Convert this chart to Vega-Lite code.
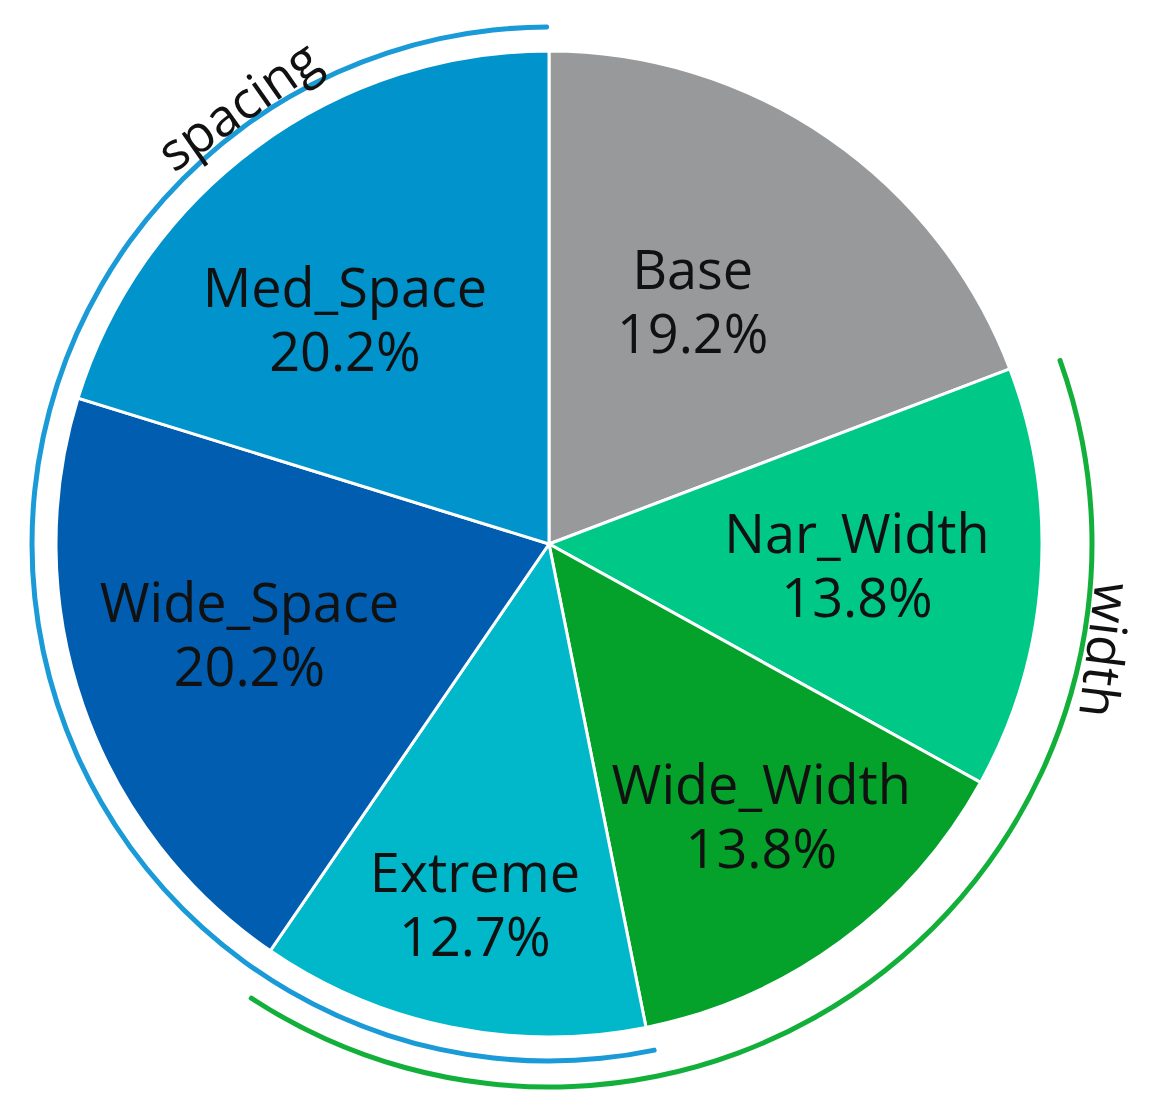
{
  "$schema": "https://vega.github.io/schema/vega-lite/v6.json",
  "width": 1098,
  "height": 1088,
  "autosize": {"type": "none"},
  "padding": {"left": 0, "top": 0, "right": 52, "bottom": 30},
  "background": "white",
  "config": {"view": {"stroke": null}, "font": "Open Sans"},
  "datasets": {
    "slices": [
      {"name": "Base", "share": 0.192, "order": 1},
      {"name": "Nar_Width", "share": 0.138, "order": 2},
      {"name": "Wide_Width", "share": 0.138, "order": 3},
      {"name": "Extreme", "share": 0.127, "order": 4},
      {"name": "Wide_Space", "share": 0.202, "order": 5},
      {"name": "Med_Space", "share": 0.202, "order": 6}
    ],
    "groups": [
      {"group": "spacing", "start": 168, "end": 360},
      {"group": "width", "start": 70, "end": 213.5}
    ]
  },
  "layer": [
    {
      "data": {"name": "slices"},
      "encoding": {
        "theta": {"field": "share", "type": "quantitative", "stack": true},
        "order": {"field": "order", "type": "quantitative"}
      },
      "layer": [
        {
          "mark": {"type": "arc", "radius": 493, "stroke": "white", "strokeWidth": 3},
          "encoding": {
            "color": {
              "field": "name",
              "type": "nominal",
              "scale": {
                "domain": ["Base", "Nar_Width", "Wide_Width", "Extreme", "Wide_Space", "Med_Space"],
                "range": ["#98999b", "#00c887", "#04a12b", "#00b8ca", "#005db0", "#0093cc"]
              },
              "legend": null
            }
          }
        },
        {
          "mark": {"type": "text", "fontSize": 54, "dy": -32, "color": "#111111",
            "radius": {"expr": "[279, 309, 348, 371, 314, 301][datum.order - 1]"},
            "thetaOffset": {"expr": "[-0.063, 0.01, -0.024, 0, 0.031, -0.11][datum.order - 1]"}},
          "encoding": {
            "text": {"field": "name", "type": "nominal"}
          }
        },
        {
          "mark": {"type": "text", "fontSize": 54, "dy": 32, "color": "#111111",
            "radius": {"expr": "[279, 309, 348, 371, 314, 301][datum.order - 1]"},
            "thetaOffset": {"expr": "[-0.063, 0.01, -0.024, 0, 0.031, -0.11][datum.order - 1]"}},
          "encoding": {
            "text": {"field": "share", "type": "quantitative", "format": ".1%"}
          }
        }
      ]
    },
    {
      "data": {"name": "groups"},
      "layer": [
        {
          "transform": [{"filter": "datum.group == 'spacing'"}],
          "mark": {"type": "arc", "radius": 519.5, "radius2": 514.5, "color": "#1a9bd7", "cornerRadius": 2},
          "encoding": {
            "theta": {"field": "start", "type": "quantitative", "stack": null, "scale": {"domain": [0, 360], "range": [0, 6.283185]}},
            "theta2": {"field": "end"}
          }
        },
        {
          "transform": [{"filter": "datum.group == 'width'"}],
          "mark": {"type": "arc", "radius": 545.5, "radius2": 540.5, "color": "#12b03a", "cornerRadius": 2},
          "encoding": {
            "theta": {"field": "start", "type": "quantitative", "stack": null, "scale": {"domain": [0, 360], "range": [0, 6.283185]}},
            "theta2": {"field": "end"}
          }
        },
        {
          "transform": [{"filter": "datum.group == 'spacing'"}],
          "mark": {"type": "text", "radius": 535, "angle": 325, "fontSize": 52, "color": "#111111"},
          "encoding": {
            "theta": {"datum": 324.7, "type": "quantitative", "scale": {"domain": [0, 360], "range": [0, 6.283185]}},
            "text": {"field": "group", "type": "nominal"}
          }
        },
        {
          "transform": [{"filter": "datum.group == 'width'"}],
          "mark": {"type": "text", "radius": 564, "angle": 97, "fontSize": 52, "color": "#111111"},
          "encoding": {
            "theta": {"datum": 100.8, "type": "quantitative", "scale": {"domain": [0, 360], "range": [0, 6.283185]}},
            "text": {"field": "group", "type": "nominal"}
          }
        }
      ]
    }
  ],
  "resolve": {"scale": {"theta": "independent"}}
}
